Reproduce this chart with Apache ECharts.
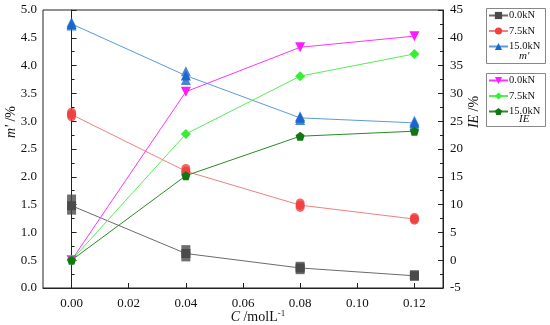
<!DOCTYPE html>
<html><head><meta charset="utf-8">
<script src="https://cdn.jsdelivr.net/npm/echarts@6/dist/echarts.min.js"></script>
<style>html,body{margin:0;padding:0;background:#fff}#c{width:550px;height:325px}</style>
</head><body><div id="c"></div>
<script>
var conc = [0, 0.04, 0.08, 0.12];
var xTickLabels = [0, 0.02, 0.04, 0.06, 0.08, 0.10, 0.12];
// m' (%) mean values, left axis
var m00 = [1.48, 0.62, 0.36, 0.22];
var m75 = [3.12, 2.10, 1.49, 1.24];
var m150 = [4.75, 3.82, 3.06, 2.97];
// replicate spread (low, high) of m'
var m00Rep = [[1.40, 1.60], [0.56, 0.69], [0.33, 0.39], [0.21, 0.24]];
var m75Rep = [[3.08, 3.16], [2.06, 2.15], [1.45, 1.53], [1.22, 1.27]];
var m150Rep = [[4.72, 4.78], [3.74, 3.90], [3.02, 3.09], [2.93, 3.01]];
// IE (%) right axis
var ie00 = [0, 30.3, 38.3, 40.3];
var ie75 = [0, 22.7, 33.1, 37.1];
var ie150 = [0, 15.2, 22.3, 23.2];
var legendM = ['m_0.0kN', 'm_7.5kN', 'm_15.0kN'];
var legendIE = ['I_0.0kN', 'I_7.5kN', 'I_15.0kN'];

var FONT = '"Liberation Serif", "DejaVu Serif", serif';
var pent = 'path://M50,0 L100,38 L81,100 L19,100 L0,38 Z';

function pts(arr){ return arr.map(function(v,i){ return [conc[i], v]; }); }
function reps(arr){ var o=[]; arr.forEach(function(p,i){ p.forEach(function(v){ o.push([conc[i], v]); }); }); return o; }

function lineS(name, data, yIdx, sym, size, mc, lc, rot){
  return {type:'line', name:name, yAxisIndex:yIdx, data:pts(data), symbol:sym, symbolSize:size, symbolRotate:rot||0,
    itemStyle:{color:mc}, lineStyle:{color:lc, width:1}, z:3};
}
function repS(name, data, sym, size, mc){
  return {type:'scatter', name:name, yAxisIndex:0, data:reps(data), symbol:sym, symbolSize:size, itemStyle:{color:mc}, z:2, silent:true};
}
function fmt1(v){ return Number(v).toFixed(1); }
function fmt2(v){ return Number(v).toFixed(2); }

var chart = echarts.init(document.getElementById('c'));
var tickLine = {color:'#222', width:1};
chart.setOption({
  animation:false,
  backgroundColor:'#fff',
  textStyle:{fontFamily:FONT},
  grid:{left:43, right:107, top:10, bottom:37, show:true, borderColor:'#222', borderWidth:1},
  xAxis:{type:'value', min:-0.01, max:0.13,
    axisLine:{show:true, onZero:false, lineStyle:tickLine},
    axisTick:{show:true, inside:true, length:5, customValues:xTickLabels, lineStyle:tickLine},
    axisLabel:{color:'#111', fontFamily:FONT, fontSize:13, customValues:xTickLabels, margin:9, formatter:fmt2},
    minorTick:{show:false}, splitLine:{show:false}},
  yAxis:[
    {type:'value', min:0, max:5, interval:0.5, position:'left',
      axisLine:{show:true, lineStyle:tickLine},
      axisTick:{show:true, inside:true, length:5, lineStyle:tickLine},
      minorTick:{show:true, splitNumber:2, length:3, lineStyle:tickLine},
      splitLine:{show:false},
      axisLabel:{color:'#111', fontFamily:FONT, fontSize:13, margin:6, formatter:fmt1}},
    {type:'value', min:-5, max:45, interval:5, position:'right',
      axisLine:{show:true, lineStyle:tickLine},
      axisTick:{show:true, inside:true, length:5, lineStyle:tickLine},
      minorTick:{show:true, splitNumber:2, length:3, lineStyle:tickLine},
      splitLine:{show:false},
      axisLabel:{color:'#111', fontFamily:FONT, fontSize:13, margin:7}}
  ],
  legend:[
    {data:legendM, orient:'vertical', left:488, top:10, itemWidth:19, itemHeight:9, itemGap:4.5, padding:0,
      formatter:function(n){return n.split('_')[1];}, textStyle:{fontFamily:FONT, fontSize:10.5, color:'#111', padding:[0,0,0,-4]}},
    {data:legendIE, orient:'vertical', left:488, top:75, itemWidth:19, itemHeight:9, itemGap:4.5, padding:0,
      formatter:function(n){return n.split('_')[1];}, textStyle:{fontFamily:FONT, fontSize:10.5, color:'#111', padding:[0,0,0,-4]}}
  ],
  graphic:[
    {type:'rect', shape:{x:486.5, y:8.5, width:59, height:55}, style:{fill:'none', stroke:'#888', lineWidth:1}, silent:true},
    {type:'rect', shape:{x:486.5, y:73.5, width:59, height:53}, style:{fill:'none', stroke:'#888', lineWidth:1}, silent:true},
    {type:'text', left:519, top:51, style:{text:"m'", font:'italic 11px '+FONT, fill:'#111'}},
    {type:'text', left:519, top:114, style:{text:'IE', font:'italic 11px '+FONT, fill:'#111'}},
    {type:'text', x:11, y:122, rotation:Math.PI/2, style:{rich:{i:{fontStyle:'italic', fontSize:14, fontFamily:FONT}, n:{fontSize:14, fontFamily:FONT}}, text:"{i|m'} {n|/%}", fill:'#111', align:'center', verticalAlign:'middle'}},
    {type:'text', x:474, y:112, rotation:Math.PI/2, style:{rich:{i:{fontStyle:'italic', fontSize:14, fontFamily:FONT}, n:{fontSize:14, fontFamily:FONT}}, text:'{i|IE} {n|/%}', fill:'#111', align:'center', verticalAlign:'middle'}},
    {type:'text', x:258, y:317, style:{rich:{i:{fontStyle:'italic', fontSize:14, fontFamily:FONT}, n:{fontSize:14, fontFamily:FONT}, s:{fontSize:9, fontFamily:FONT, verticalAlign:'top', padding:[0,0,7,0]}}, text:'{i|C} {n|/molL}{s|-1}', fill:'#111', align:'center', verticalAlign:'middle'}}
  ],
  series:[
    repS('r0', m00Rep, 'rect', 9, '#4a4a4a'),
    repS('r1', m75Rep, 'circle', 9, '#f04040'),
    repS('r2', m150Rep, 'triangle', 10, '#1a66cc'),
    lineS('m_0.0kN', m00, 0, 'rect', 9, '#4a4a4a', '#6b6b6b'),
    lineS('m_7.5kN', m75, 0, 'circle', 9, '#f04040', '#f08080'),
    lineS('m_15.0kN', m150, 0, 'triangle', 10, '#1a66cc', '#5b9bd5'),
    lineS('I_0.0kN', ie00, 1, 'triangle', 10, '#ff1aff', '#ff33ff', 180),
    lineS('I_7.5kN', ie75, 1, 'diamond', 10, '#33f033', '#55ee55'),
    lineS('I_15.0kN', ie150, 1, pent, 9, '#117711', '#2a8a2a')
  ]
});
</script></body></html>
